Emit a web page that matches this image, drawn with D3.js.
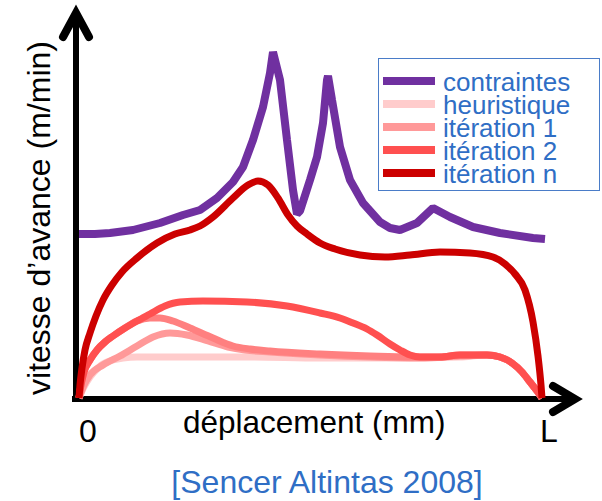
<!DOCTYPE html>
<html>
<head>
<meta charset="utf-8">
<script src="https://cdn.jsdelivr.net/npm/d3@7"></script>
<style>
  html, body { margin: 0; padding: 0; background: #ffffff; }
  svg { display: block; }
</style>
</head>
<body>
<svg id="chart" width="602" height="501"></svg>
<script>
// ---- DATA (x: déplacement, 0 … L ; y: vitesse d'avance, arbitrary units) ----
const seriesNames = ["contraintes", "heuristique", "itération 1", "itération 2", "itération n"];
const xTickLabels = ["0", "L"];
const axisTitleX = "déplacement (mm)";
const axisTitleY = "vitesse d’avance (m/min)";
const sourceText = "[Sencer Altintas 2008]";

const contraintes = [
  [0,164],[16,164],[31,165],[54,168],[81,175],[104,183],[121,188],[138,200],[154,216],
  [164,231],[174,258],[184,291],[191,325],[194,346],[201,318],[208,258],[214,208],[218,184],
  [221,187],[231,218],[238,241],[244,275],[248,318],[249,322],[253,298],[261,251],[271,218],
  [284,195],[301,176],[311,170],[321,168],[338,175],[354,190],[371,181],[394,171],[421,165],
  [454,160],[466,159]
];
const iterationN = [
  [0,0],[1,13],[3,30],[6,48],[11,65],[17,82],[24,98],[33,113],[43,126],[58,140],[78,155],
  [96,164],[111,168],[121,172],[134,181],[154,200],[169,213],[179,217],[189,213],[199,200],
  [209,183],[218,172],[228,164],[241,155],[256,149],[281,143],[306,141],[331,143],[361,146],
  [391,145],[414,141],[426,134],[436,124],[446,108],[454,76],[459,42],[462,13],[463,0]
];
const iteration2 = [
  [0,0],[2,13],[5,26],[11,38],[18,48],[26,56],[34,62],[46,70],[58,77],[71,84],[86,92],
  [101,96],[124,97],[168,96],[208,92],[241,85],[261,80],[274,75],[288,69],[298,63],[311,54],
  [321,48],[331,43],[341,41],[361,41],[381,43],[408,43],[421,41],[433,35],[443,26],[451,16],
  [458,7],[463,0]
];
const iterationIntermediaire = [
  [0,0],[2,13],[5,26],[11,38],[18,48],[26,56],[34,62],[46,70],[58,77],[71,80],[81,80],
  [94,77],[111,70],[134,60],[154,52],[171,49],[191,47],[241,44],[291,42],[331,41],[361,41],
  [381,43],[408,43],[421,41],[433,35],[443,26],[451,16],[458,7],[463,0]
];
const iteration1 = [
  [0,0],[5,13],[11,23],[24,33],[41,42],[58,52],[74,61],[91,65],[108,63],[129,57],[149,51],
  [166,48],[191,46],[241,43],[291,41],[341,40],[381,42],[408,43],[421,41],[433,35],[443,26],
  [451,16],[458,7],[463,0]
];
const heuristique = [
  [0,0],[5,11],[11,21],[18,29],[24,34],[34,38],[44,40],[58,41],[121,41],[171,41],[241,40],
  [321,40],[381,41],[408,43],[421,41],[433,35],[443,26],[451,16],[458,7],[463,0]
];

// ---- DRAWING ----
const svg = d3.select("#chart");
const x = d3.scaleLinear().domain([0, 463]).range([79, 542]);
const y = d3.scaleLinear().domain([0, 350]).range([398, 48]);

const blue = "#2F6EC5";

// axes
const axes = svg.append("g").attr("stroke", "#000").attr("fill", "none");
axes.append("line").attr("x1", 76).attr("y1", 402).attr("x2", 76).attr("y2", 16).attr("stroke-width", 6);
axes.append("line").attr("x1", 72).attr("y1", 399).attr("x2", 574).attr("y2", 399).attr("stroke-width", 6);
axes.append("polyline").attr("points", "63,37 76,13 89,37")
  .attr("stroke-width", 8).attr("stroke-linecap", "round").attr("stroke-linejoin", "miter").attr("stroke-miterlimit", 10);
axes.append("polyline").attr("points", "553,386 575,399 553,412")
  .attr("stroke-width", 8).attr("stroke-linecap", "round").attr("stroke-linejoin", "miter").attr("stroke-miterlimit", 10);

const smooth = d3.line().x(d => x(d[0])).y(d => y(d[1])).curve(d3.curveMonotoneX);
const straight = d3.line().x(d => x(d[0])).y(d => y(d[1])).curve(d3.curveLinear);

const curves = [
  { data: heuristique, color: "#FFCCCC", w: 7, gen: smooth },
  { data: iteration1, color: "#FF9999", w: 7, gen: smooth },
  { data: iterationIntermediaire, color: "#FF8080", w: 7, gen: smooth },
  { data: iteration2, color: "#FF5050", w: 7, gen: smooth },
  { data: iterationN, color: "#CC0000", w: 7, gen: smooth },
  { data: contraintes, color: "#7030A0", w: 8, gen: straight }
];
svg.append("g").selectAll("path").data(curves).join("path")
  .attr("d", c => c.gen(c.data))
  .attr("fill", "none")
  .attr("stroke", c => c.color)
  .attr("stroke-width", c => c.w)
  .attr("stroke-linejoin", "bevel")
  .attr("stroke-linecap", "butt");

// tick labels
const font = "'Liberation Sans', Arial, sans-serif";
svg.append("text").attr("x", 88).attr("y", 442).attr("text-anchor", "middle")
  .attr("font-family", font).attr("font-size", 32).attr("fill", "#000").text(xTickLabels[0]);
svg.append("text").attr("x", 549).attr("y", 442).attr("text-anchor", "middle")
  .attr("font-family", font).attr("font-size", 32).attr("fill", "#000").text(xTickLabels[1]);

// axis titles
svg.append("text").attr("x", 183).attr("y", 433).attr("text-anchor", "start")
  .attr("font-family", font).attr("font-size", 31.5).attr("fill", "#000").text(axisTitleX);
svg.append("text").attr("transform", "translate(50,218) rotate(-90)").attr("text-anchor", "middle")
  .attr("font-family", font).attr("font-size", 32).attr("fill", "#000").text(axisTitleY);

// source
svg.append("text").attr("x", 327).attr("y", 493).attr("text-anchor", "middle")
  .attr("font-family", font).attr("font-size", 32).attr("fill", blue).text(sourceText);

// legend
const legendColors = ["#7030A0", "#FFCCCC", "#FF9999", "#FF5050", "#CC0000"];
const legendRows = [81, 104, 127, 150, 173];
const lg = svg.append("g");
lg.append("rect").attr("x", 378.5).attr("y", 58.5).attr("width", 221).attr("height", 132)
  .attr("fill", "#fff").attr("stroke", "#4A7CC8").attr("stroke-width", 1);
const items = lg.selectAll("g.item").data(seriesNames).join("g").attr("class", "item");
items.append("line")
  .attr("x1", 383).attr("x2", 435)
  .attr("y1", (d, i) => legendRows[i]).attr("y2", (d, i) => legendRows[i])
  .attr("stroke", (d, i) => legendColors[i]).attr("stroke-width", 8);
items.append("text")
  .attr("x", 443).attr("y", (d, i) => legendRows[i] + 9.5)
  .attr("font-family", font).attr("font-size", 26).attr("fill", blue)
  .text(d => d);
</script>
</body>
</html>
